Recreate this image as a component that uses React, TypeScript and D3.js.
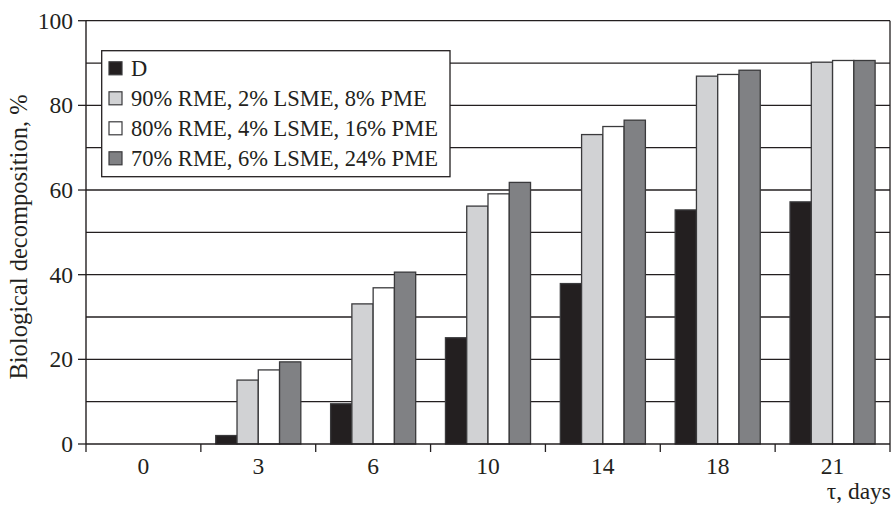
import { useEffect, useRef } from 'react'
import * as d3 from 'd3'

const days = ['0', '3', '6', '10', '14', '18', '21']
const seriesNames = [
  'D',
  '90% RME, 2% LSME, 8% PME',
  '80% RME, 4% LSME, 16% PME',
  '70% RME, 6% LSME, 24% PME',
]
const valuesD = [0, 2.0, 9.5, 25.1, 37.9, 55.3, 57.2]
const values90 = [0, 15.1, 33.1, 56.2, 73.1, 86.9, 90.2]
const values80 = [0, 17.5, 36.9, 59.1, 75.0, 87.3, 90.6]
const values70 = [0, 19.4, 40.6, 61.8, 76.5, 88.3, 90.6]
const colors = ['#231f20', '#d1d2d4', '#ffffff', '#808184']
const yTicks = [0, 20, 40, 60, 80, 100]

const WIDTH = 892
const HEIGHT = 508
const FONT = '"Liberation Serif", "DejaVu Serif", serif'
const INK = '#231f20'

export default function App() {
  const svgRef = useRef<SVGSVGElement>(null)

  useEffect(() => {
    if (!svgRef.current) return
    const svg = d3.select(svgRef.current)
    svg.selectAll('*').remove()

    const left = 86
    const right = 890
    const top = 20.7
    const bottom = 444

    const allSeries = [valuesD, values90, values80, values70]

    const x = d3.scaleBand<string>().domain(days).range([left, right]).padding(0)
    const xInner = d3
      .scaleBand<number>()
      .domain(d3.range(allSeries.length))
      .range([0, x.bandwidth()])
      .paddingInner(0)
      .paddingOuter(0.7)
    const y = d3.scaleLinear().domain([0, 100]).range([bottom, top])

    // gridlines every 10
    svg
      .append('g')
      .selectAll('line')
      .data(d3.range(10, 101, 10))
      .enter()
      .append('line')
      .attr('x1', left)
      .attr('x2', right)
      .attr('y1', (d) => y(d))
      .attr('y2', (d) => y(d))
      .attr('stroke', INK)
      .attr('stroke-width', 1.3)

    // right frame
    svg
      .append('line')
      .attr('x1', right)
      .attr('x2', right)
      .attr('y1', top)
      .attr('y2', bottom)
      .attr('stroke', INK)
      .attr('stroke-width', 1.3)

    // bars
    const groups = svg
      .append('g')
      .selectAll('g')
      .data(days)
      .enter()
      .append('g')
      .attr('transform', (d) => `translate(${x(d)},0)`)

    groups
      .selectAll('rect')
      .data((_, i) => allSeries.map((s, k) => ({ k, v: s[i] })))
      .enter()
      .filter((d) => d.v > 0)
      .append('rect')
      .attr('x', (d) => xInner(d.k) || 0)
      .attr('y', (d) => y(d.v))
      .attr('width', xInner.bandwidth())
      .attr('height', (d) => bottom - y(d.v))
      .attr('fill', (d) => colors[d.k])
      .attr('stroke', '#3a3a3c')
      .attr('stroke-width', 1.3)

    // y axis
    svg
      .append('line')
      .attr('x1', left)
      .attr('x2', left)
      .attr('y1', top)
      .attr('y2', bottom)
      .attr('stroke', INK)
      .attr('stroke-width', 1.4)

    const yt = svg.append('g').selectAll('g').data(yTicks).enter().append('g')
    yt.append('line')
      .attr('x1', left - 8)
      .attr('x2', left)
      .attr('y1', (d) => y(d))
      .attr('y2', (d) => y(d))
      .attr('stroke', INK)
      .attr('stroke-width', 1.3)
    yt.append('text')
      .attr('x', left - 13)
      .attr('y', (d) => y(d))
      .attr('dy', '0.34em')
      .attr('text-anchor', 'end')
      .attr('font-family', FONT)
      .attr('font-size', 23.5)
      .attr('fill', INK)
      .text((d) => d)

    // x axis
    svg
      .append('line')
      .attr('x1', left)
      .attr('x2', right)
      .attr('y1', bottom)
      .attr('y2', bottom)
      .attr('stroke', INK)
      .attr('stroke-width', 1.4)

    const boundaries = [...days.map((d) => x(d) || 0), right]
    svg
      .append('g')
      .selectAll('line')
      .data(boundaries)
      .enter()
      .append('line')
      .attr('x1', (d) => d)
      .attr('x2', (d) => d)
      .attr('y1', bottom)
      .attr('y2', bottom + 8)
      .attr('stroke', INK)
      .attr('stroke-width', 1.3)

    svg
      .append('g')
      .selectAll('text')
      .data(days)
      .enter()
      .append('text')
      .attr('x', (d) => (x(d) || 0) + x.bandwidth() / 2)
      .attr('y', 474)
      .attr('text-anchor', 'middle')
      .attr('font-family', FONT)
      .attr('font-size', 23.5)
      .attr('fill', INK)
      .text((d) => d)

    svg
      .append('text')
      .attr('x', 891)
      .attr('y', 499)
      .attr('text-anchor', 'end')
      .attr('font-family', FONT)
      .attr('font-size', 23.5)
      .attr('fill', INK)
      .text('τ, days')

    svg
      .append('text')
      .attr('transform', `translate(27,237) rotate(-90)`)
      .attr('text-anchor', 'middle')
      .attr('font-family', FONT)
      .attr('font-size', 24.5)
      .attr('fill', INK)
      .text('Biological decomposition, %')

    // legend
    const lg = svg.append('g')
    lg.append('rect')
      .attr('x', 101.7)
      .attr('y', 50.7)
      .attr('width', 348.3)
      .attr('height', 126)
      .attr('fill', '#fff')
      .attr('stroke', INK)
      .attr('stroke-width', 1.3)
    const rows = lg
      .selectAll('g')
      .data(seriesNames)
      .enter()
      .append('g')
      .attr('transform', (_, i) => `translate(109,${68.3 + i * 30})`)
    rows
      .append('rect')
      .attr('x', 0)
      .attr('y', -6.5)
      .attr('width', 13)
      .attr('height', 13)
      .attr('fill', (_, i) => colors[i])
      .attr('stroke', '#3a3a3c')
      .attr('stroke-width', 1.2)
    rows
      .append('text')
      .attr('x', 22)
      .attr('y', 0)
      .attr('dy', '0.34em')
      .attr('font-family', FONT)
      .attr('font-size', 22.5)
      .attr('fill', INK)
      .text((d) => d)
  }, [])

  return (
    <svg
      ref={svgRef}
      width={WIDTH}
      height={HEIGHT}
      style={{ position: 'absolute', left: 0, top: 0, background: '#fff' }}
    />
  )
}
